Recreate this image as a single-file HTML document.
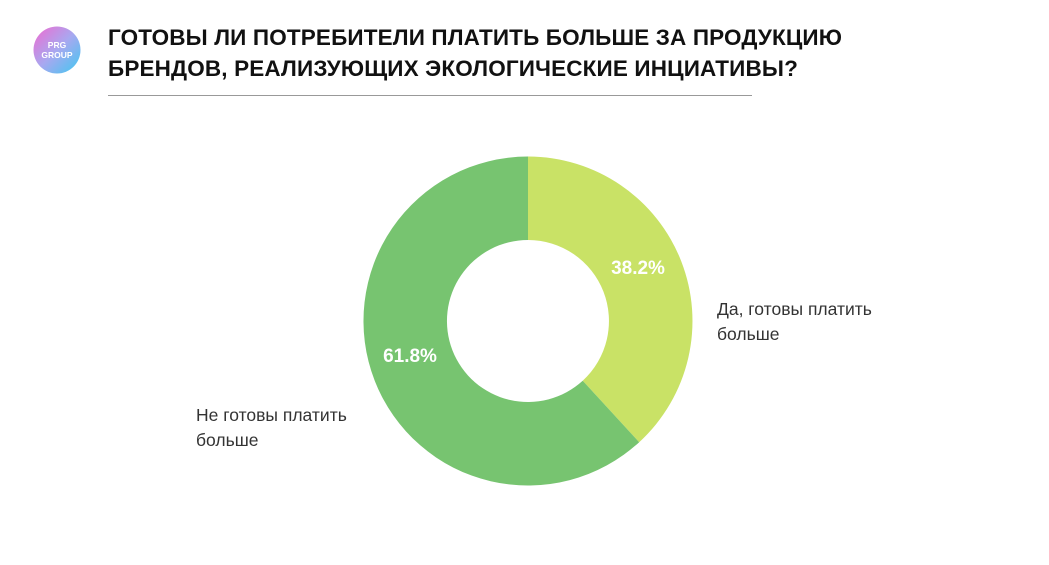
<!DOCTYPE html>
<html><head><meta charset="utf-8"><style>
body{margin:0;width:1049px;height:565px;background:#fff;overflow:hidden;font-family:"Liberation Sans","Noto Sans CJK SC",sans-serif;}
.t{position:absolute;left:108px;top:22px;font-size:22.5px;font-weight:bold;color:#111;line-height:31px;letter-spacing:0.15px}
.l{position:absolute;font-size:17.5px;color:#333;line-height:25px}
</style></head><body>
<svg width="1049" height="565" style="position:absolute;left:0;top:0">
<defs><linearGradient id="g" x1="0" y1="0" x2="1" y2="1"><stop offset="0" stop-color="#f06ad0"/><stop offset="0.5" stop-color="#a8a8f0"/><stop offset="1" stop-color="#3fc8f0"/></linearGradient></defs>
<circle cx="57" cy="50" r="23.5" fill="url(#g)"/>
<text x="57" y="48" font-size="8.5" font-weight="bold" fill="#fff" text-anchor="middle" font-family="Liberation Sans">PRG</text>
<text x="57" y="58" font-size="8.5" font-weight="bold" fill="#fff" text-anchor="middle" font-family="Liberation Sans">GROUP</text>
<line x1="108" y1="95.5" x2="752" y2="95.5" stroke="#999" stroke-width="1"/>
<path d="M528 156.5 A164.5 164.5 0 0 1 639.2 442.2 L582.7 380.7 A81 81 0 0 0 528 240 Z" fill="#c9e266"/>
<path d="M639.2 442.2 A164.5 164.5 0 1 1 528 156.5 L528 240 A81 81 0 1 0 582.7 380.7 Z" fill="#77c470"/>
<text x="638" y="274" font-size="19" font-weight="bold" fill="#fff" text-anchor="middle" font-family="Liberation Sans">38.2%</text>
<text x="410" y="362" font-size="19" font-weight="bold" fill="#fff" text-anchor="middle" font-family="Liberation Sans">61.8%</text>
</svg>
<div class="t">ГОТОВЫ ЛИ ПОТРЕБИТЕЛИ ПЛАТИТЬ БОЛЬШЕ ЗА ПРОДУКЦИЮ<br>БРЕНДОВ, РЕАЛИЗУЮЩИХ ЭКОЛОГИЧЕСКИЕ ИНЦИАТИВЫ?</div>
<div class="l" style="left:717px;top:297px">Да, готовы платить<br>больше</div>
<div class="l" style="left:196px;top:403px">Не готовы платить<br>больше</div>
</body></html>
